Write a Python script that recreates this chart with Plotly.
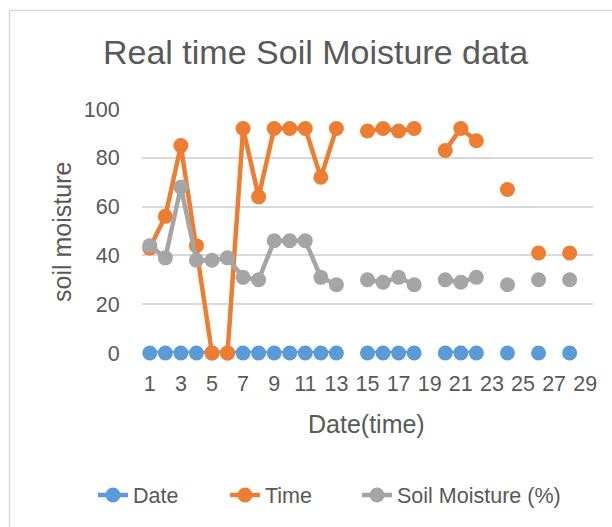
import plotly.graph_objects as go

days = list(range(1, 30))
tick_vals = list(range(1, 30, 2))

# None = empty cell (gap in the line)
date_vals = [0, 0, 0, 0, 0, 0, 0, 0, 0, 0, 0, 0, 0, None, 0, 0, 0, 0, None, 0, 0, 0, None, 0, None, 0, None, 0, None]
time_vals = [43, 56, 85, 44, 0, 0, 92, 64, 92, 92, 92, 72, 92, None, 91, 92, 91, 92, None, 83, 92, 87, None, 67, None, 41, None, 41, None]
soil_vals = [44, 39, 68, 38, 38, 39, 31, 30, 46, 46, 46, 31, 28, None, 30, 29, 31, 28, None, 30, 29, 31, None, 28, None, 30, None, 30, None]

FONT = "Liberation Sans"
TXT = "#595959"

W, H = 612, 527
L, R, T, B = 142, 19, 109, 174
pw, ph = W - L - R, H - T - B

def px(x):
    return (x - L) / pw

def py(y):
    return (H - B - y) / ph

fig = go.Figure()
series = [("Date", date_vals, "#5B9BD5", "legend", 93),
          ("Time", time_vals, "#ED7D31", "legend2", 225),
          ("Soil Moisture (%)", soil_vals, "#A5A5A5", "legend3", 357)]
legends = {}
for name, vals, col, lg, lx in series:
    fig.add_trace(go.Scatter(
        x=days, y=vals, name=name, mode="lines+markers",
        line=dict(color=col, width=4.5),
        marker=dict(color=col, size=15),
        connectgaps=False, cliponaxis=False, legend=lg,
    ))
    legends[lg] = dict(
        orientation="h", xref="container", yref="container",
        x=lx / W, xanchor="left", y=1 - 495 / H, yanchor="middle",
        font=dict(family=FONT, size=21.5, color=TXT),
        bgcolor="rgba(0,0,0,0)",
    )

fig.update_layout(
    width=W, height=H,
    margin=dict(l=L, r=R, t=T, b=B, autoexpand=False),
    paper_bgcolor="white", plot_bgcolor="white",
    font=dict(family=FONT, color=TXT),
    showlegend=True,
    **legends,
    xaxis=dict(
        range=[0.5, 29.5], tickmode="array", tickvals=tick_vals,
        ticktext=[str(v) for v in tick_vals],
        showgrid=False, zeroline=False, showline=False,
        ticks="outside", ticklen=11, tickcolor="rgba(0,0,0,0)",
        tickfont=dict(family=FONT, size=21.5, color=TXT),
    ),
    yaxis=dict(
        range=[0, 100], tickvals=[0, 20, 40, 60, 80, 100],
        showgrid=True, gridcolor="#D9D9D9", gridwidth=1.5,
        zeroline=False, showline=False,
        ticks="outside", ticklen=17, tickcolor="rgba(0,0,0,0)",
        tickfont=dict(family=FONT, size=21.5, color=TXT),
    ),
    annotations=[
        dict(text="Real time Soil Moisture data", xref="paper", yref="paper",
             x=px(315), y=py(52), xanchor="center", yanchor="middle",
             showarrow=False, font=dict(family=FONT, size=34, color=TXT)),
        dict(text="Date(time)", xref="paper", yref="paper",
             x=px(366), y=py(424), xanchor="center", yanchor="middle",
             showarrow=False, font=dict(family=FONT, size=25, color=TXT)),
        dict(text="soil moisture", xref="paper", yref="paper",
             x=px(62), y=py(232), xanchor="center", yanchor="middle",
             textangle=-90,
             showarrow=False, font=dict(family=FONT, size=25, color=TXT)),
    ],
    shapes=[
        dict(type="rect", xref="paper", yref="paper",
             x0=px(9.5), x1=px(640), y0=py(560), y1=py(10.5),
             line=dict(color="#D9D9D9", width=1.5), fillcolor="rgba(0,0,0,0)",
             layer="below"),
    ],
)

fig.write_html("out.html", config={"displayModeBar": False},
               post_script="document.body.style.margin='0';document.body.style.overflow='hidden';")
